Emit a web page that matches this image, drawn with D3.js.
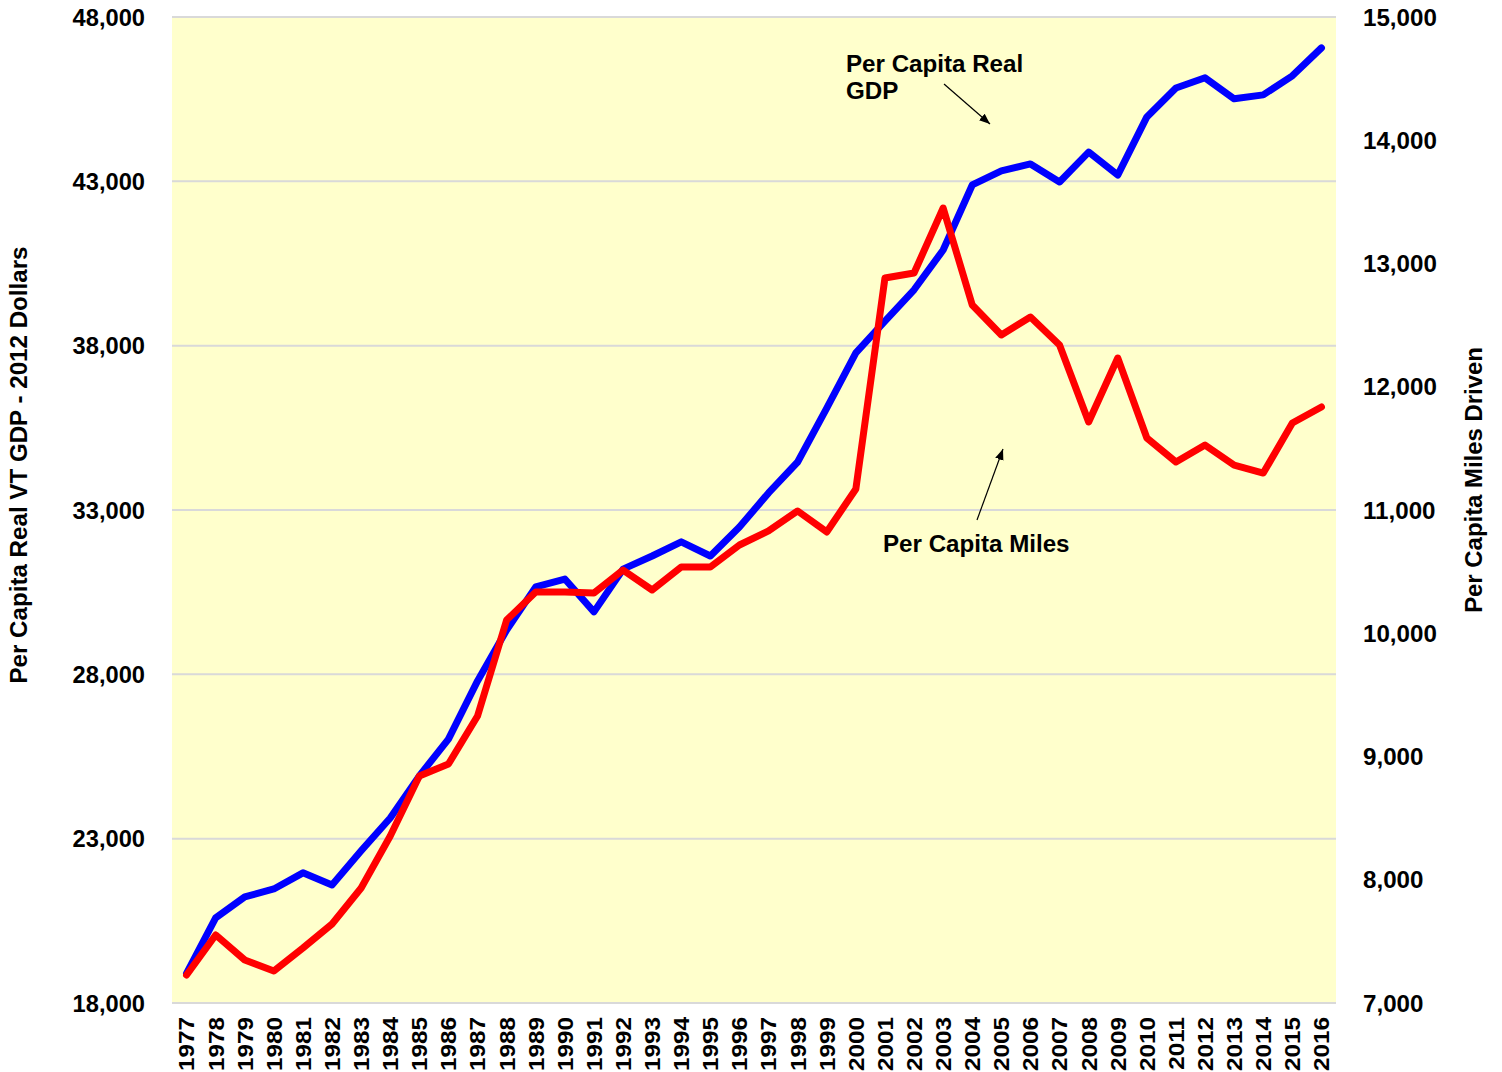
<!DOCTYPE html>
<html>
<head>
<meta charset="utf-8">
<script src="https://cdn.jsdelivr.net/npm/d3@7"></script>
<style>
  body { margin: 0; background: #fff; }
  text { font-family: "Liberation Sans", Arial, sans-serif; font-weight: bold; fill: #000; }
</style>
</head>
<body>
<script>
// ---------------------------------------- data ----------------------------------------//
var years = d3.range(1977, 2017);

var gdpPerCapita = [
  18900, 20590, 21230, 21470, 21960, 21590, 22630, 23630, 24910, 26030,
  27800, 29350, 30660, 30900, 29900, 31200, 31600, 32030, 31600, 32480,
  33520, 34460, 36100, 37780, 38750, 39700, 40910, 42890, 43320, 43530,
  42980, 43890, 43190, 44960, 45840, 46150, 45510, 45630, 46210, 47060
];

var milesPerCapita = [
  7227, 7552, 7349, 7260, 7446, 7641, 7933, 8355, 8842, 8939,
  9329, 10107, 10335, 10335, 10327, 10513, 10351, 10538, 10538, 10716,
  10830, 10992, 10822, 11170, 12882, 12923, 13450, 12663, 12420, 12566,
  12339, 11714, 12233, 11584, 11389, 11527, 11365, 11300, 11706, 11836
];

var leftTicks = [18000, 23000, 28000, 33000, 38000, 43000, 48000];
var rightTicks = [7000, 8000, 9000, 10000, 11000, 12000, 13000, 14000, 15000];

// ---------------------------------------- layout ----------------------------------------//
var width = 1502,
  height = 1072;
var margin = { top: 17, right: 166, bottom: 69, left: 172 };
var fontSize = "23px";

var svg = d3.select("body").append("svg")
  .attr("width", width)
  .attr("height", height);

var x = d3.scaleBand()
  .domain(years)
  .range([margin.left, width - margin.right]);

var yLeft = d3.scaleLinear()
  .domain([18000, 48000])
  .range([height - margin.bottom, margin.top]);

var yRight = d3.scaleLinear()
  .domain([7000, 15000])
  .range([height - margin.bottom, margin.top]);

var fmt = d3.format(",");

// plot background
svg.append("rect")
  .attr("x", margin.left)
  .attr("y", margin.top)
  .attr("width", width - margin.left - margin.right)
  .attr("height", height - margin.top - margin.bottom)
  .attr("fill", "#ffffcc");

// gridlines
svg.append("g")
  .selectAll("line")
  .data(leftTicks)
  .enter()
  .append("line")
  .attr("x1", margin.left)
  .attr("x2", width - margin.right)
  .attr("y1", function (d) { return yLeft(d); })
  .attr("y2", function (d) { return yLeft(d); })
  .attr("stroke", "#d9d9d9")
  .attr("stroke-width", 2);

// left axis
var leftAxis = svg.append("g")
  .attr("transform", "translate(" + (margin.left - 27) + ",0)")
  .call(d3.axisLeft(yLeft).tickValues(leftTicks).tickFormat(fmt).tickSize(0).tickPadding(0));
leftAxis.select(".domain").remove();
leftAxis.selectAll("text")
  .style("font-size", fontSize)
  .attr("x", 0)
  .attr("dy", "0.35em")
  .attr("transform", "scale(1.03,1)");

// right axis
var rightAxis = svg.append("g")
  .attr("transform", "translate(" + (width - margin.right + 27) + ",0)")
  .call(d3.axisRight(yRight).tickValues(rightTicks).tickFormat(fmt).tickSize(0).tickPadding(0));
rightAxis.select(".domain").remove();
rightAxis.selectAll("text")
  .style("font-size", fontSize)
  .attr("x", 0)
  .attr("dy", "0.35em")
  .attr("transform", "scale(1.05,1)");

// bottom axis (year labels rotated)
var bottomAxis = svg.append("g")
  .attr("transform", "translate(0," + (height - margin.bottom) + ")")
  .call(d3.axisBottom(x).tickSize(0).tickPadding(0));
bottomAxis.select(".domain").remove();
bottomAxis.selectAll("text")
  .style("font-size", "22.5px")
  .attr("text-anchor", "end")
  .attr("transform", "rotate(-90) scale(1.08,1)")
  .attr("x", -14 / 1.08)
  .attr("y", 0)
  .attr("dy", "0.35em");

// axis titles
svg.append("text")
  .attr("transform", "translate(27,465) rotate(-90) scale(1.05,1)")
  .attr("text-anchor", "middle")
  .style("font-size", fontSize)
  .text("Per Capita Real VT GDP - 2012 Dollars");

svg.append("text")
  .attr("transform", "translate(1482,480) rotate(-90) scale(1.04,1)")
  .attr("text-anchor", "middle")
  .style("font-size", fontSize)
  .text("Per Capita Miles Driven");

// ---------------------------------------- lines ----------------------------------------//
function cx(i) { return x(years[i]) + x.bandwidth() / 2; }

var gdpLine = d3.line()
  .x(function (d, i) { return cx(i); })
  .y(function (d) { return yLeft(d); });

var milesLine = d3.line()
  .x(function (d, i) { return cx(i); })
  .y(function (d) { return yRight(d); });

svg.append("path")
  .datum(gdpPerCapita)
  .attr("d", gdpLine)
  .attr("fill", "none")
  .attr("stroke", "#0000ff")
  .attr("stroke-width", 7)
  .attr("stroke-linejoin", "round")
  .attr("stroke-linecap", "round");

svg.append("path")
  .datum(milesPerCapita)
  .attr("d", milesLine)
  .attr("fill", "none")
  .attr("stroke", "#ff0000")
  .attr("stroke-width", 7)
  .attr("stroke-linejoin", "round")
  .attr("stroke-linecap", "round");

// ---------------------------------------- annotations ----------------------------------------//
var defs = svg.append("defs");
defs.append("marker")
  .attr("id", "arrow")
  .attr("viewBox", "0 0 10 10")
  .attr("refX", 10)
  .attr("refY", 5)
  .attr("markerWidth", 9)
  .attr("markerHeight", 9)
  .attr("orient", "auto")
  .append("path")
  .attr("d", "M0,1L10,5L0,9Z")
  .attr("fill", "#000");

var gdpNote = svg.append("text")
  .style("font-size", fontSize)
  .attr("transform", "translate(846,72) scale(1.05,1)");
gdpNote.append("tspan").attr("x", 0).text("Per Capita Real");
gdpNote.append("tspan").attr("x", 0).attr("dy", 27).text("GDP");

svg.append("line")
  .attr("x1", 944).attr("y1", 84)
  .attr("x2", 990).attr("y2", 124)
  .attr("stroke", "#000")
  .attr("stroke-width", 1.2)
  .attr("marker-end", "url(#arrow)");

svg.append("text")
  .style("font-size", fontSize)
  .attr("transform", "translate(883,552) scale(1.05,1)")
  .text("Per Capita Miles");

svg.append("line")
  .attr("x1", 977).attr("y1", 520)
  .attr("x2", 1003).attr("y2", 449)
  .attr("stroke", "#000")
  .attr("stroke-width", 1.2)
  .attr("marker-end", "url(#arrow)");
</script>
</body>
</html>
